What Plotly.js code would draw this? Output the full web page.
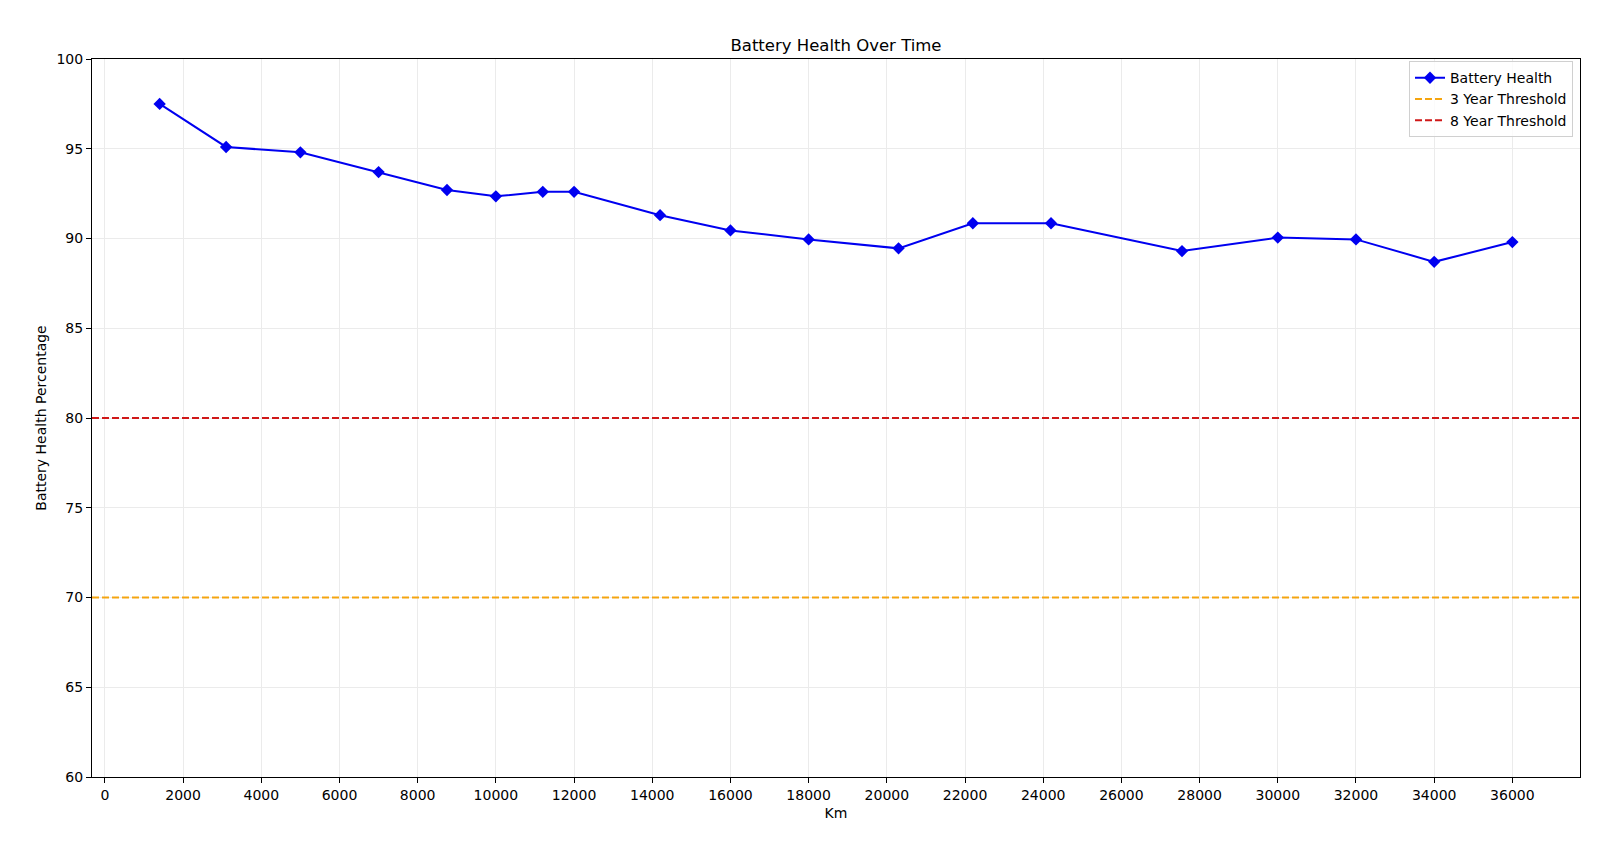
<!DOCTYPE html>
<html>
<head>
<meta charset="utf-8">
<script src="https://cdn.plot.ly/plotly-3.0.1.min.js"></script>
<style>html,body{margin:0;padding:0;background:#fff;}#chart{width:1620px;height:846px;}</style>
</head>
<body>
<div id="chart"></div>
<script>
const km = [1400, 3100, 5000, 7000, 8750, 10000, 11200, 12000, 14200, 16000, 18000, 20300, 22200, 24200, 27550, 30000, 32000, 34000, 36000];
const health = [97.5, 95.1, 94.8, 93.7, 92.7, 92.35, 92.6, 92.6, 91.3, 90.45, 89.95, 89.45, 90.85, 90.85, 89.3, 90.05, 89.95, 88.7, 89.8];
const thresholdNames = ["3 Year Threshold", "8 Year Threshold"];
const thresholdValues = [70, 80];
const thresholdColors = ["#f5a510", "#d01818"];
const yTicks = [60, 65, 70, 75, 80, 85, 90, 95, 100];

const kmMin = Math.min(...km), kmMax = Math.max(...km);
const pad = (kmMax - kmMin) * 0.05;
const xRange = [kmMin - pad, kmMax + pad];

const font = "DejaVu Sans, sans-serif";
const traces = [{
  x: km, y: health, type: "scatter", mode: "lines+markers", name: "Battery Health",
  line: {color: "#0000f0", width: 2},
  marker: {symbol: "diamond", size: 9.5, color: "#0000f0"}
}];
thresholdNames.forEach((n, i) => {
  traces.push({
    x: xRange, y: [thresholdValues[i], thresholdValues[i]], type: "scatter", mode: "lines", name: n,
    line: {color: thresholdColors[i], width: 2, dash: "7px,3px"}
  });
});

const axisCommon = {
  showline: true, linecolor: "#000", linewidth: 1, mirror: true,
  ticks: "outside", ticklen: 5, tickwidth: 1, tickcolor: "#000",
  showgrid: true, gridcolor: "#ebebeb", gridwidth: 1, zeroline: false,
  tickfont: {family: font, size: 14, color: "#000"}
};

const layout = {
  width: 1620, height: 846,
  paper_bgcolor: "#fff", plot_bgcolor: "#fff",
  margin: {l: 92, r: 40, t: 59, b: 69},
  title: {text: "Battery Health Over Time", font: {family: font, size: 16.5, color: "#000"}, xref: "paper", x: 0.5, xanchor: "center", y: 0.946, yanchor: "middle"},
  showlegend: true,
  legend: {x: 0.9953, xanchor: "right", y: 0.997, yanchor: "top", bgcolor: "rgba(255,255,255,0.8)", bordercolor: "#d0d0d0", borderwidth: 1, font: {family: font, size: 14, color: "#000"}},
  xaxis: Object.assign({}, axisCommon, {
    range: xRange, tick0: 0, dtick: 2000, tickformat: "d",
    title: {text: "Km", font: {family: font, size: 14, color: "#000"}, standoff: 6}
  }),
  yaxis: Object.assign({}, axisCommon, {
    range: [60, 100], tickvals: yTicks, ticktext: yTicks.map(String),
    title: {text: "Battery Health Percentage", font: {family: font, size: 14, color: "#000"}, standoff: 6}
  })
};

Plotly.newPlot("chart", traces, layout, {displayModeBar: false, staticPlot: true});
</script>
</body>
</html>
